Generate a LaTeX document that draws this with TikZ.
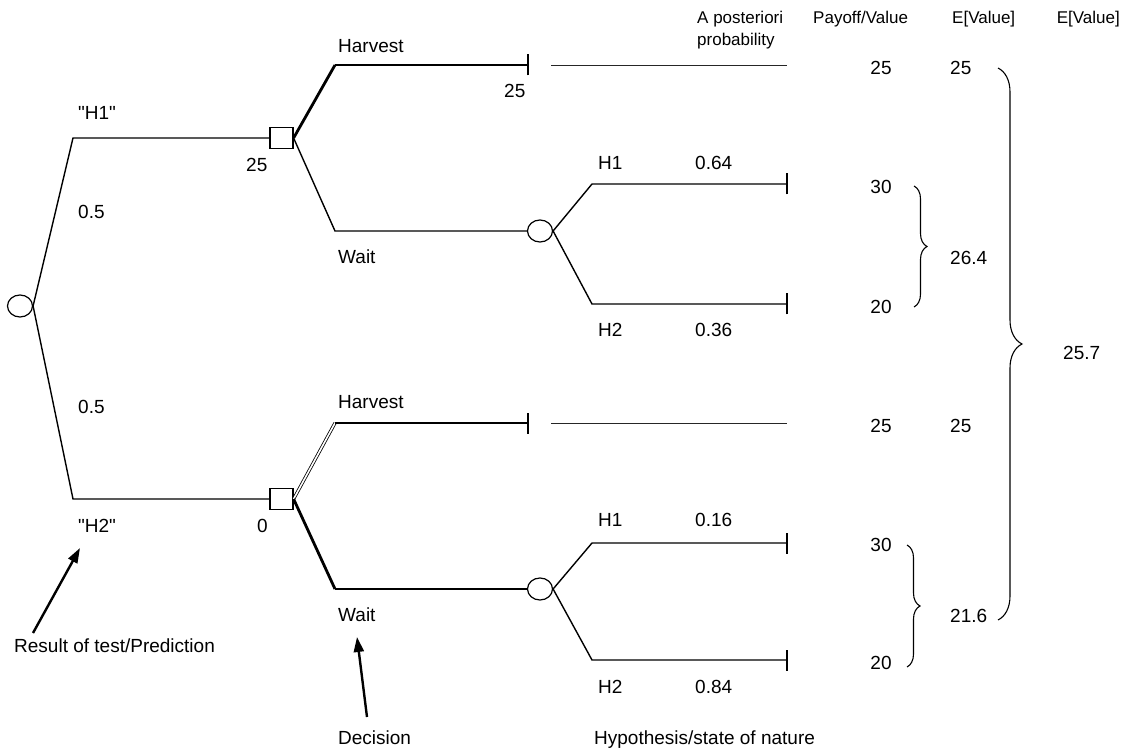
\documentclass[tikz,border=0pt]{standalone}
\usepackage{fontspec}
\setmainfont{Liberation Sans}
\usetikzlibrary{shapes.geometric,arrows.meta,decorations.pathreplacing}
\begin{document}
\begin{tikzpicture}[x=1pt,y=-1pt,
  lbl/.style={inner sep=0pt,anchor=base west,font=\fontsize{19}{22}\selectfont},
  num/.style={inner sep=0pt,anchor=base,font=\fontsize{19}{22}\selectfont},
  head/.style={inner sep=0pt,anchor=base west,font=\fontsize{17}{20}\selectfont},
  branch/.style={line width=1.4pt},
  heavy/.style={line width=2.8pt},
  twin/.style={double,double distance=1.6pt,line width=0.8pt},
  faint/.style={line width=0.9pt,black!85},
  chance/.style={ellipse,draw,line width=1.2pt,minimum width=25pt,minimum height=22pt,inner sep=0pt},
  choice/.style={rectangle,draw,line width=1.2pt,minimum width=23pt,minimum height=21pt,inner sep=0pt},
  pointer/.style={line width=2.4pt,-{Triangle[length=15pt,width=10pt]}},
  curly/.style={decorate,decoration={brace,amplitude=#1},line width=1.1pt}
]
\useasboundingbox (0,0) rectangle (1127,751);

% ---- decision and chance nodes
\node[chance] (root) at (20,306) {};
\node[choice] (dA) at (281.5,138) {};
\node[choice] (dB) at (281.5,499) {};
\node[chance] (cA) at (540,231) {};
\node[chance] (cB) at (540,589) {};

% ---- bend points and branch ends
\coordinate (kA) at (73,138);
\coordinate (kB) at (73,499);
\coordinate (hA) at (335,65);
\coordinate (tA) at (528,65);
\coordinate (wA) at (335,231);
\coordinate (hB) at (335,423);
\coordinate (tB) at (528,423);
\coordinate (wB) at (335,589);
\coordinate (uA) at (592,184);
\coordinate (eA1) at (787,184);
\coordinate (lA) at (592,304);
\coordinate (eA2) at (787,304);
\coordinate (uB) at (592,543);
\coordinate (eB1) at (787,543);
\coordinate (lB) at (592,660);
\coordinate (eB2) at (787,660);
\coordinate (gA0) at (551,65);
\coordinate (gA1) at (787,65);
\coordinate (gB0) at (551,423);
\coordinate (gB1) at (787,423);

% ---- test result branches
\draw[branch] (root.east) -- (kA) -- (dA.west);
\draw[branch] (root.east) -- (kB) -- (dB.west);

% ---- upper decision
\draw[heavy] (dA.east) -- (hA);
\draw[branch] (hA) -- (tA);
\draw[branch] (dA.east) -- (wA) -- (cA.west);
\draw[faint] (gA0) -- (gA1);

% ---- lower decision
\draw[twin] (dB.east) -- (hB);
\draw[branch] (hB) -- (tB);
\draw[heavy] (dB.east) -- (wB);
\draw[branch] (wB) -- (cB.west);
\draw[faint] (gB0) -- (gB1);

% ---- states of nature
\draw[branch] (cA.east) -- (uA) -- (eA1);
\draw[branch] (cA.east) -- (lA) -- (eA2);
\draw[branch] (cB.east) -- (uB) -- (eB1);
\draw[branch] (cB.east) -- (lB) -- (eB2);

% ---- terminal ticks
\foreach \e in {tA,tB,eA1,eA2,eB1,eB2}
  \draw[branch] ([yshift=-10.5pt]\e) -- ([yshift=10.5pt]\e);

% ---- branch labels
\node[lbl] (qH1) at (78,120) {\textquotedbl H1\textquotedbl};
\node[lbl] (pr1) at (78,219) {0.5};
\node[lbl] (pr2) at (78,413) {0.5};
\node[lbl] (qH2) at (78,532) {\textquotedbl H2\textquotedbl};
\node[lbl] (vA) at (246,172) {25};
\node[lbl] (vB) at (257,532) {0};
\node[lbl] (harA) at (338,53) {Harvest};
\node[lbl] (payA) at (504,98) {25};
\node[lbl] (waitA) at (338,264) {Wait};
\node[lbl] (harB) at (338,408) {Harvest};
\node[lbl] (waitB) at (338,621) {Wait};
\node[lbl] (sA1) at (598,170) {H1};
\node[lbl] (pA1) at (695,170) {0.64};
\node[lbl] (sA2) at (598,337) {H2};
\node[lbl] (pA2) at (695,337) {0.36};
\node[lbl] (sB1) at (598,526) {H1};
\node[lbl] (pB1) at (695,526) {0.16};
\node[lbl] (sB2) at (598,693) {H2};
\node[lbl] (pB2) at (695,693) {0.84};

% ---- column headers
\node[head] (hdPost) at (697,24) {A posteriori};
\node[head] (hdProb) at (697,46) {probability};
\node[head] (hdPay) at (813,24) {Payoff/Value};
\node[head] (hdE1) at (952,24) {E[Value]};
\node[head,anchor=base east] (hdE2) at (1120,24) {E[Value]};

% ---- payoffs
\node[num] (y1) at (881,75) {25};
\node[num] (y2) at (881,194) {30};
\node[num] (y3) at (881,313) {20};
\node[num] (y4) at (881,432) {25};
\node[num] (y5) at (881,551) {30};
\node[num] (y6) at (881,669) {20};

% ---- expected values
\node[lbl] (x1) at (950,75) {25};
\node[lbl] (x2) at (950,265) {26.4};
\node[lbl] (x3) at (950,432) {25};
\node[lbl] (x4) at (950,622) {21.6};
\node[lbl] (x5) at (1063,359) {25.7};

% ---- braces
\coordinate (bA0) at (914,186);
\coordinate (bA1) at (914,307);
\coordinate (bB0) at (907,545);
\coordinate (bB1) at (907,667);
\coordinate (bC0) at (998,68);
\coordinate (bC1) at (998,620);
\draw[curly=13pt] (bA0) -- (bA1);
\draw[curly=13pt] (bB0) -- (bB1);
\draw[curly=24pt] (bC0) -- (bC1);

% ---- annotations
\node[lbl] (capTest) at (14,652) {Result of test/Prediction};
\node[lbl] (capDec) at (338,744) {Decision};
\node[lbl] (capHyp) at (594,744) {Hypothesis/state of nature};
\coordinate (aT0) at (33,633);
\coordinate (aT1) at (80,548);
\coordinate (aD0) at (367,717);
\coordinate (aD1) at (357,637);
\draw[pointer] (aT0) -- (aT1);
\draw[pointer] (aD0) -- (aD1);
\end{tikzpicture}
\end{document}
